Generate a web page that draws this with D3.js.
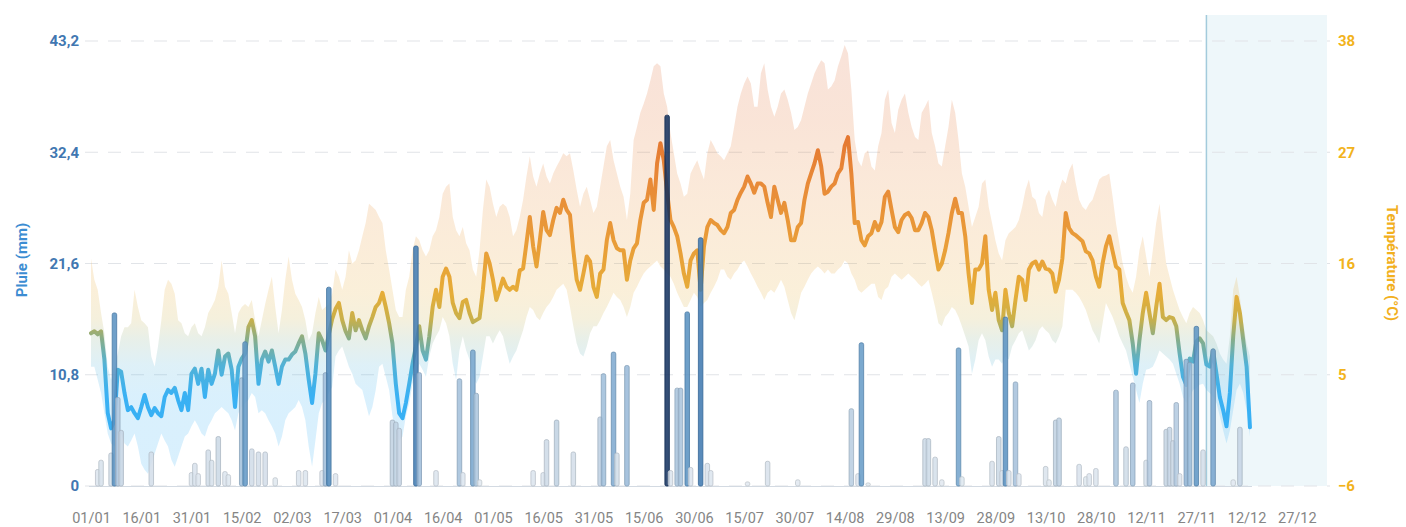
<!DOCTYPE html>
<html lang="fr">
<head>
  <meta charset="UTF-8">
  <title>Pluie et température</title>
  <script src="https://d3js.org/d3.v7.min.js"></script>
  <style>
    body { margin: 0; background: #fff; font-family: Roboto, "Open Sans", sans-serif; }
  </style>
</head>
<body>
  <div id="chart"></div>
  <script>
    // ---- data ----
    const firstDay = "01/01/2023";
    const lastDay = "05/01/2024";
    const forecastStart = "30/11/2023";

    const xTickLabels = ["01/01", "16/01", "31/01", "15/02", "02/03", "17/03", "01/04", "16/04",
      "01/05", "16/05", "31/05", "15/06", "30/06", "15/07", "30/07", "14/08", "29/08", "13/09",
      "28/09", "13/10", "28/10", "12/11", "27/11", "12/12", "27/12"];
    const rainTicks = [0, 10.8, 21.6, 32.4, 43.2];
    const tempTicks = [-6, 5, 16, 27, 38];

    // daily mean temperature (°C), from 01/01
    const tMean = [
      9.1, 9.3, 9.0, 9.3, 6.5, 1.2, -0.3, 0.5, 5.5, 5.3,        // 01/01
      3.2, 1.5, 1.8, 1.2, 0.7, 1.8, 3.0, 1.8, 1.0, 1.7,         // 11/01
      1.2, 0.9, 2.8, 3.5, 3.2, 3.7, 2.5, 1.5, 3.2, 1.5,         // 21/01
      5.1, 5.6, 4.1, 5.6, 2.8, 5.5, 4.1, 5.1, 7.4, 5.0,         // 31/01
      6.8, 7.1, 5.5, 1.8, 5.8, 6.6, 7.1, 9.7, 10.4, 8.8,        // 10/02
      4.1, 6.5, 7.3, 6.3, 7.4, 5.8, 4.1, 5.8, 6.5, 6.5,         // 20/02
      7.0, 7.3, 8.1, 8.8, 7.1, 4.5, 2.2, 5.1, 9.1, 8.4,         // 02/03
      7.4, 9.0, 10.5, 11.5, 12.1, 10.4, 9.3, 8.6, 11.1, 9.4,    // 12/03
      10.4, 9.4, 8.6, 9.8, 10.7, 11.7, 12.1, 13.1, 11.7, 10.1,  // 22/03
      8.1, 4.1, 1.2, 0.7, 2.2, 4.1, 6.1, 7.8, 9.8, 7.4,         // 01/04
      6.5, 8.8, 11.7, 13.4, 11.7, 14.7, 15.5, 14.7, 12.1, 11.1, // 11/04
      10.6, 12.2, 12.4, 11.1, 10.2, 10.4, 10.6, 13.4, 17.0, 16.0, // 21/04
      14.4, 12.4, 13.4, 14.5, 13.7, 13.4, 13.7, 13.4, 15.3, 15.5, // 01/05
      18.0, 20.6, 17.7, 15.7, 18.3, 21.1, 19.3, 18.8, 20.3, 21.5, // 11/05
      21.0, 22.3, 21.3, 20.8, 17.3, 14.4, 13.4, 15.0, 16.7, 16.2, // 21/05
      13.7, 12.7, 15.0, 15.4, 18.3, 20.0, 18.3, 17.5, 17.3, 17.3, // 31/05
      14.4, 16.3, 17.5, 18.0, 20.3, 22.0, 22.3, 24.3, 21.3, 25.9, // 10/06
      27.9, 26.2, 23.0, 20.3, 19.6, 18.7, 17.0, 15.0, 13.7, 16.3, // 20/06
      17.0, 17.3, 13.4, 17.7, 19.6, 20.3, 20.0, 19.8, 19.3, 19.0, // 30/06
      19.6, 21.0, 21.3, 22.3, 23.0, 23.6, 24.6, 23.9, 23.0, 23.9, // 10/07
      23.9, 23.6, 22.0, 20.6, 23.6, 22.3, 21.0, 22.0, 20.3, 18.3, // 20/07
      18.3, 19.6, 20.0, 22.3, 23.9, 24.9, 25.9, 27.2, 25.6, 22.9, // 30/07
      23.1, 23.6, 23.9, 24.9, 25.4, 27.6, 28.5, 24.9, 20.0, 20.1, // 09/08
      18.3, 17.8, 18.7, 19.0, 20.1, 19.3, 20.1, 22.6, 23.1, 21.3, // 19/08
      19.6, 19.1, 20.3, 20.8, 21.0, 20.5, 19.3, 19.3, 20.0, 21.0, // 29/08
      20.6, 19.3, 17.3, 15.4, 16.0, 17.3, 19.0, 21.0, 22.4, 21.0, // 08/09
      21.0, 18.7, 15.0, 12.1, 15.4, 15.4, 16.0, 18.7, 13.4, 11.4, // 18/09
      13.1, 10.4, 9.4, 13.4, 11.1, 9.8, 12.4, 14.7, 14.4, 12.4,   // 28/09
      15.4, 16.0, 16.2, 15.4, 16.2, 15.5, 15.4, 15.0, 13.2, 14.4, // 08/10
      16.5, 21.0, 19.5, 19.0, 18.8, 18.5, 18.2, 17.2, 17.0, 16.3, // 18/10
      14.7, 13.7, 16.0, 17.7, 18.7, 17.2, 15.7, 15.4, 12.1, 11.2, // 28/10
      10.4, 8.1, 5.1, 8.4, 11.1, 13.1, 11.1, 9.1, 11.7, 14.0,     // 07/11
      10.7, 10.4, 10.7, 10.6, 9.8, 7.1, 4.8, 4.0, 6.6, 6.3,       // 17/11
      8.3, 8.6, 8.1, 6.0, 5.8, 7.4, 5.1, 2.8, 1.5, -0.1,          // 27/11
      3.2, 8.8, 12.7, 11.1, 8.4, 5.8, -0.2                        // 07/12
    ];

    // daily max temperature (°C)
    const tMax = [
      16.5, 14.4, 13.4, 11.1, 9.1, 5.8, 4.5, 5.8, 7.1, 8.8,
      9.7, 9.7, 10.1, 13.4, 11.7, 10.4, 10.1, 9.7, 6.8, 5.8,
      7.8, 10.4, 13.4, 14.4, 14.0, 13.0, 10.4, 10.1, 9.1, 8.8,
      9.7, 10.1, 9.1, 8.8, 9.7, 11.1, 11.7, 12.4, 13.7, 16.3,
      13.7, 13.0, 11.1, 9.1, 11.1, 11.7, 12.0, 11.7, 12.4, 10.4,
      8.8, 10.4, 12.0, 13.4, 14.7, 11.7, 9.1, 11.4, 14.4, 16.7,
      14.4, 13.0, 12.4, 11.7, 10.4, 8.4, 9.1, 11.1, 12.7, 11.4,
      11.7, 12.0, 13.0, 15.4, 14.7, 13.4, 14.7, 17.3, 16.0, 16.3,
      17.3, 18.7, 20.0, 21.9, 21.6, 21.3, 20.6, 20.0, 17.3, 15.4,
      13.4, 11.4, 10.7, 10.7, 13.4, 14.7, 17.3, 18.7, 18.3, 17.3,
      16.7, 17.3, 18.7, 19.3, 20.6, 22.9, 23.6, 23.9, 20.6, 19.3,
      18.7, 19.6, 18.0, 17.3, 15.4, 14.7, 17.3, 21.3, 24.3, 23.6,
      21.9, 20.6, 21.6, 21.9, 21.6, 20.6, 18.7, 19.3, 20.6, 22.3,
      24.6, 26.6, 24.6, 23.6, 24.9, 25.9, 24.6, 23.9, 24.9, 25.6,
      26.2, 26.9, 26.6, 26.9, 25.2, 23.3, 21.6, 22.9, 23.6, 22.3,
      21.0, 21.6, 23.6, 25.6, 27.6, 28.2, 26.2, 24.9, 23.6, 22.6,
      20.3, 22.9, 28.2, 29.5, 30.9, 31.8, 32.8, 34.1, 35.5, 35.8,
      35.5, 32.8, 31.5, 28.9, 26.9, 24.9, 23.9, 22.6, 22.9, 24.9,
      25.6, 26.2, 25.2, 24.3, 26.9, 28.2, 27.6, 26.9, 26.6, 26.2,
      26.9, 27.6, 29.5, 31.5, 32.8, 33.8, 34.5, 33.8, 31.5, 31.5,
      34.8, 35.8, 33.2, 31.5, 30.5, 31.5, 32.8, 33.2, 32.2, 30.9,
      29.2, 29.5, 30.2, 31.5, 32.8, 33.8, 34.8, 35.5, 36.1, 35.8,
      33.2, 33.5, 34.1, 35.5, 36.5, 37.6, 36.8, 33.2, 28.2, 26.2,
      25.6, 26.9, 27.2, 25.6, 25.2, 27.6, 28.9, 32.2, 33.2, 29.9,
      28.9, 31.2, 32.2, 32.8, 30.9, 29.5, 28.5, 28.2, 30.9, 31.5,
      32.2, 28.9, 27.6, 25.9, 25.6, 27.6, 29.5, 32.2, 30.9, 28.2,
      24.9, 23.6, 21.6, 19.6, 20.6, 21.6, 23.9, 24.3, 21.6, 20.0,
      18.3, 17.0, 16.3, 18.3, 19.0, 19.3, 19.6, 20.3, 21.6, 23.3,
      24.3, 22.6, 22.3, 21.0, 20.6, 22.6, 23.3, 22.3, 21.6, 23.3,
      24.3, 23.9, 25.2, 25.9, 23.9, 22.3, 21.6, 21.3, 21.9, 22.3,
      23.3, 24.3, 24.6, 24.7, 24.9, 22.6, 20.0, 18.0, 16.0, 14.7,
      13.7, 13.1, 14.7, 17.3, 18.7, 16.7, 14.7, 17.3, 20.0, 21.9,
      18.7, 16.0, 14.7, 13.4, 12.4, 11.4, 10.7, 10.1, 11.1, 11.7,
      11.4, 11.1, 10.4, 9.4, 9.1, 8.8, 8.1, 7.1, 6.5, 6.1,
      8.8, 13.4, 14.7, 12.7, 10.1, 8.1, 6.8
    ];

    // daily min temperature (°C)
    const tMin = [
      5.8, 5.8, 4.5, 3.2, 1.2, -0.8, -1.8, -2.1, -0.8, -0.8,
      -1.8, -2.1, -1.5, -0.8, -2.1, -3.8, -4.4, -4.8, -3.8, -2.8,
      -1.8, -0.8, -1.5, -2.1, -3.4, -4.1, -3.1, -2.1, -1.1, -0.8,
      -0.1, 0.5, -0.1, -0.8, -1.1, -0.1, 0.5, 1.2, 1.5, 1.8,
      1.5, 1.2, 0.5, -0.5, 1.2, 1.8, 2.2, 2.5, 3.2, 2.8,
      1.2, 1.5, 1.2, 0.5, -0.1, -0.8, -2.1, -1.1, 0.5, 1.2,
      1.5, 1.8, 2.5, 1.8, 0.5, -2.1, -4.1, -1.5, 1.2, 2.2,
      2.5, 3.2, 3.8, 6.8, 7.4, 7.8, 6.8, 5.8, 5.1, 4.1,
      3.8, 3.5, 2.2, 0.9, 1.8, 3.5, 5.8, 6.1, 4.8, 3.5,
      0.9, -0.8, -1.5, -1.1, 0.9, 2.2, 4.1, 4.8, 6.1, 5.5,
      4.8, 6.8, 8.1, 8.8, 9.4, 10.7, 10.1, 8.8, 6.1, 4.5,
      7.4, 8.8, 7.4, 6.5, 4.8, 4.1, 4.8, 6.8, 8.8, 8.8,
      8.1, 8.8, 9.4, 8.8, 7.4, 6.1, 6.8, 7.4, 8.4, 9.4,
      10.7, 11.7, 11.4, 10.7, 10.4, 11.1, 11.7, 12.1, 12.7, 13.4,
      13.7, 14.0, 13.4, 11.7, 9.8, 8.1, 7.1, 6.8, 7.8, 9.1,
      9.8, 9.8, 10.4, 11.1, 11.7, 12.4, 13.1, 12.7, 12.4, 11.7,
      10.7, 11.7, 13.1, 13.7, 14.4, 15.0, 15.4, 15.7, 16.0, 16.3,
      15.7, 15.4, 15.0, 14.7, 14.0, 13.1, 12.4, 11.7, 11.7, 12.4,
      13.1, 12.7, 11.7, 12.1, 12.4, 13.1, 13.7, 14.4, 15.4, 15.4,
      14.7, 14.4, 15.0, 15.4, 16.0, 16.3, 15.7, 15.0, 14.4, 13.7,
      13.1, 12.4, 13.1, 13.4, 13.1, 13.7, 14.4, 13.7, 12.4, 11.1,
      10.4, 11.7, 13.1, 13.7, 14.4, 15.0, 15.4, 15.7, 15.4, 15.0,
      15.4, 15.0, 15.0, 15.4, 15.7, 16.3, 16.0, 15.0, 14.4, 13.4,
      13.1, 13.4, 13.7, 14.0, 14.0, 12.7, 12.4, 13.4, 13.7, 14.7,
      15.0, 14.7, 14.4, 14.7, 15.0, 14.7, 14.4, 14.0, 13.7, 14.0,
      14.4, 13.1, 11.7, 10.1, 9.8, 10.7, 11.1, 11.7, 11.4, 10.7,
      9.8, 8.8, 7.8, 5.1, 6.5, 8.4, 9.1, 8.4, 6.8, 5.8,
      6.5, 6.5, 6.1, 6.8, 6.5, 7.8, 8.4, 9.1, 9.4, 8.4,
      7.4, 7.8, 8.4, 9.4, 9.8, 9.4, 9.1, 8.4, 8.1, 8.8,
      9.8, 13.4, 13.4, 13.4, 13.1, 12.7, 12.1, 11.4, 10.4, 9.4,
      8.8, 8.1, 10.1, 12.1, 11.4, 10.7, 9.8, 8.8, 8.1, 7.4,
      6.1, 4.8, 3.5, 2.2, 4.1, 5.5, 5.6, 5.8, 6.5, 7.4,
      7.1, 6.8, 6.5, 6.1, 5.1, 4.1, 2.8, 2.2, 2.8, 3.5,
      3.7, 4.0, 4.1, 3.5, 3.2, 2.8, 2.2, 0.9, -0.5, -1.8,
      -0.5, 1.5, 3.5, 4.1, 3.2, 1.5, -1.1
    ];

    // rainy days (dd/mm) and rain in mm
    const rainDates = ["03/01", "04/01", "07/01", "08/01", "09/01", "10/01", "19/01", "31/01",
      "01/02", "02/02", "05/02", "06/02", "08/02", "10/02", "11/02", "15/02", "16/02", "18/02",
      "20/02", "22/02", "25/02", "04/03", "06/03", "11/03", "12/03", "13/03", "15/03", "01/04",
      "02/04", "03/04", "08/04", "09/04", "14/04", "21/04", "22/04", "25/04", "26/04", "27/04",
      "13/05", "16/05", "17/05", "20/05", "25/05", "02/06", "03/06", "06/06", "07/06", "10/06",
      "22/06", "23/06", "25/06", "26/06", "28/06", "29/06", "02/07", "04/07", "05/07", "16/07",
      "22/07", "31/07", "16/08", "18/08", "19/08", "21/08", "07/09", "08/09", "10/09", "12/09",
      "17/09", "18/09", "27/09", "29/09", "30/09", "01/10", "02/10", "04/10", "05/10", "13/10",
      "14/10", "16/10", "17/10", "23/10", "25/10", "26/10", "28/10", "03/11", "06/11", "08/11",
      "12/11", "13/11", "18/11", "19/11", "20/11", "21/11", "22/11", "24/11", "25/11", "27/11",
      "29/11", "02/12", "08/12", "10/12"];
    const rainMm = [1.6, 2.5, 3.2, 16.8, 8.6, 5.4, 3.3, 1.3,
      2.2, 1.2, 3.5, 2.5, 4.8, 1.4, 1.1, 10.5, 14.0, 3.6,
      3.3, 3.3, 0.8, 1.5, 1.5, 1.5, 11.0, 19.3, 1.2, 6.4,
      6.2, 5.6, 23.3, 11.0, 1.5, 10.4, 1.3, 13.2, 9.0, 0.6,
      1.5, 1.3, 4.5, 6.4, 3.3, 6.7, 10.9, 13.0, 3.2, 11.7,
      36.0, 1.5, 9.5, 9.5, 16.9, 1.8, 24.1, 2.2, 1.5, 0.4,
      2.4, 0.6, 7.5, 1.2, 13.9, 0.3, 4.6, 4.6, 2.8, 0.6,
      13.4, 0.9, 2.4, 4.8, 1.5, 16.4, 1.5, 10.1, 1.2, 1.9,
      0.6, 6.4, 6.6, 2.1, 0.9, 1.2, 1.7, 9.3, 3.8, 10.0,
      2.5, 8.3, 5.5, 5.7, 4.4, 8.1, 1.2, 12.3, 12.0, 15.5,
      3.5, 13.3, 0.6, 5.7];

    const parseDate = d3.timeParse("%d/%m/%Y");
    const year = "2023";

    const fr = d3.formatLocale({ decimal: ",", thousands: " ", grouping: [3], currency: ["", " €"] });
    const fmt1 = fr.format(".1f");

    drawChart();

    function drawChart() {
      const svgWidth = 1406;
      const svgHeight = 527;

      const start = parseDate(firstDay);
      const temps = tMean.map((t, i) => ({
        date: d3.timeDay.offset(start, i),
        mean: t,
        min: tMin[i],
        max: tMax[i]
      }));
      const rain = rainDates.map((d, i) => ({ date: parseDate(d + "/" + year), mm: rainMm[i] }));

      const svg = d3.select("#chart")
        .append("svg")
        .attr("width", svgWidth)
        .attr("height", svgHeight);

      const xScale = d3.scaleTime()
        .domain([start, parseDate(lastDay)])
        .range([91, 1327]);

      const yRain = d3.scaleLinear().domain([0, 43.2]).range([486, 41]);
      const yTemp = d3.scaleLinear().domain([-6, 38]).range([486, 41]);

      // forecast zone
      const fx = xScale(parseDate(forecastStart));
      svg.append("rect")
        .attr("x", fx)
        .attr("y", 15)
        .attr("width", xScale.range()[1] - fx)
        .attr("height", yRain(0) - 15)
        .attr("fill", "#eef7fa");

      // dashed grid
      svg.append("g")
        .selectAll("line")
        .data(rainTicks)
        .enter()
        .append("line")
        .attr("x1", 85)
        .attr("x2", 1330)
        .attr("y1", d => yRain(d))
        .attr("y2", d => yRain(d))
        .attr("stroke", "#e1e4e8")
        .attr("stroke-width", 1.2)
        .attr("stroke-dasharray", "13,10");

      svg.append("line")
        .attr("x1", fx).attr("x2", fx)
        .attr("y1", 15).attr("y2", yRain(0))
        .attr("stroke", "#a3cbdc")
        .attr("stroke-width", 1.5);

      // colour by temperature
      const gradStops = [[-6, "#33adf6"], [3, "#3ab1f3"], [6, "#52b2d6"], [8.5, "#86ad8a"],
        [10.5, "#c9b04a"], [13, "#e6ad38"], [18, "#e99d38"], [24, "#e88a38"], [30, "#e3712e"], [38, "#dc6a3a"]];
      const grad = svg.append("defs")
        .append("linearGradient")
        .attr("id", "tempGrad")
        .attr("gradientUnits", "userSpaceOnUse")
        .attr("x1", 0).attr("x2", 0)
        .attr("y1", yTemp(-6)).attr("y2", yTemp(38));
      grad.selectAll("stop")
        .data(gradStops)
        .enter()
        .append("stop")
        .attr("offset", d => (d[0] + 6) / 44)
        .attr("stop-color", d => d[1]);

      // min / max band
      const band = d3.area()
        .x(d => xScale(d.date))
        .y0(d => yTemp(d.min))
        .y1(d => yTemp(d.max));

      svg.append("path")
        .datum(temps)
        .attr("d", band)
        .attr("fill", "url(#tempGrad)")
        .attr("opacity", 0.19);

      // mean temperature line
      const line = d3.line()
        .x(d => xScale(d.date))
        .y(d => yTemp(d.mean));

      svg.append("path")
        .datum(temps)
        .attr("d", line)
        .attr("fill", "none")
        .attr("stroke", "url(#tempGrad)")
        .attr("stroke-width", 4)
        .attr("stroke-linejoin", "round")
        .attr("stroke-linecap", "round");

      // baseline under the data
      svg.append("line")
        .attr("x1", xScale(start) - 2)
        .attr("x2", xScale(temps[temps.length - 1].date) + 2)
        .attr("y1", yRain(0) + 0.5)
        .attr("y2", yRain(0) + 0.5)
        .attr("stroke", "#d3dae2")
        .attr("stroke-width", 1.2);

      // rain bars
      const rainColor = d3.scaleLinear()
        .domain([0, 5, 12, 14, 24, 36])
        .range(["#e3eaf1", "#c9d7e5", "#96b8d7", "#6198c6", "#3c78b0", "#112f5e"]);

      svg.append("g")
        .selectAll("rect")
        .data(rain)
        .enter()
        .append("rect")
        .attr("x", d => xScale(d.date) - 2.25)
        .attr("y", d => yRain(d.mm))
        .attr("width", 4.5)
        .attr("height", d => yRain(0) - yRain(d.mm))
        .attr("rx", 1.8)
        .attr("fill", d => rainColor(d.mm))
        .attr("fill-opacity", 0.85)
        .attr("stroke", d => d3.color(rainColor(d.mm)).darker(0.45))
        .attr("stroke-width", 0.8);

      // axes
      const leftAxis = d3.axisLeft(yRain)
        .tickValues(rainTicks)
        .tickSize(0)
        .tickPadding(6)
        .tickFormat(d => d === 0 ? "0" : fmt1(d));

      svg.append("g")
        .attr("transform", "translate(85,0)")
        .call(leftAxis)
        .call(g => g.select(".domain").remove())
        .selectAll("text")
        .attr("fill", "#4177b1")
        .style("font-family", "Roboto, sans-serif")
        .style("font-size", "15px")
        .style("font-weight", "700");

      const rightAxis = d3.axisRight(yTemp)
        .tickValues(tempTicks)
        .tickSize(0)
        .tickPadding(6);

      svg.append("g")
        .attr("transform", "translate(1332,0)")
        .call(rightAxis)
        .call(g => g.select(".domain").remove())
        .selectAll("text")
        .attr("fill", "#f2b31c")
        .style("font-family", "Roboto, sans-serif")
        .style("font-size", "15px")
        .style("font-weight", "700");

      const xAxis = d3.axisBottom(xScale)
        .tickValues(xTickLabels.map(s => parseDate(s + "/" + year)))
        .tickSize(0)
        .tickPadding(0)
        .tickFormat(d3.timeFormat("%d/%m"));

      svg.append("g")
        .attr("transform", "translate(0,513)")
        .call(xAxis)
        .call(g => g.select(".domain").remove())
        .selectAll("text")
        .attr("fill", "#858585")
        .style("font-family", "Roboto, sans-serif")
        .style("font-size", "14.5px");

      // axis titles
      svg.append("text")
        .attr("transform", "translate(27,260) rotate(-90)")
        .attr("text-anchor", "middle")
        .attr("fill", "#3c8dd2")
        .style("font-family", "Roboto, sans-serif")
        .style("font-size", "15px")
        .style("font-weight", "700")
        .text("Pluie (mm)");

      svg.append("text")
        .attr("transform", "translate(1387,263) rotate(90)")
        .attr("text-anchor", "middle")
        .attr("fill", "#f2b01e")
        .style("font-family", "Roboto, sans-serif")
        .style("font-size", "15px")
        .style("font-weight", "700")
        .text("Température (°C)");
    }
  </script>
</body>
</html>
